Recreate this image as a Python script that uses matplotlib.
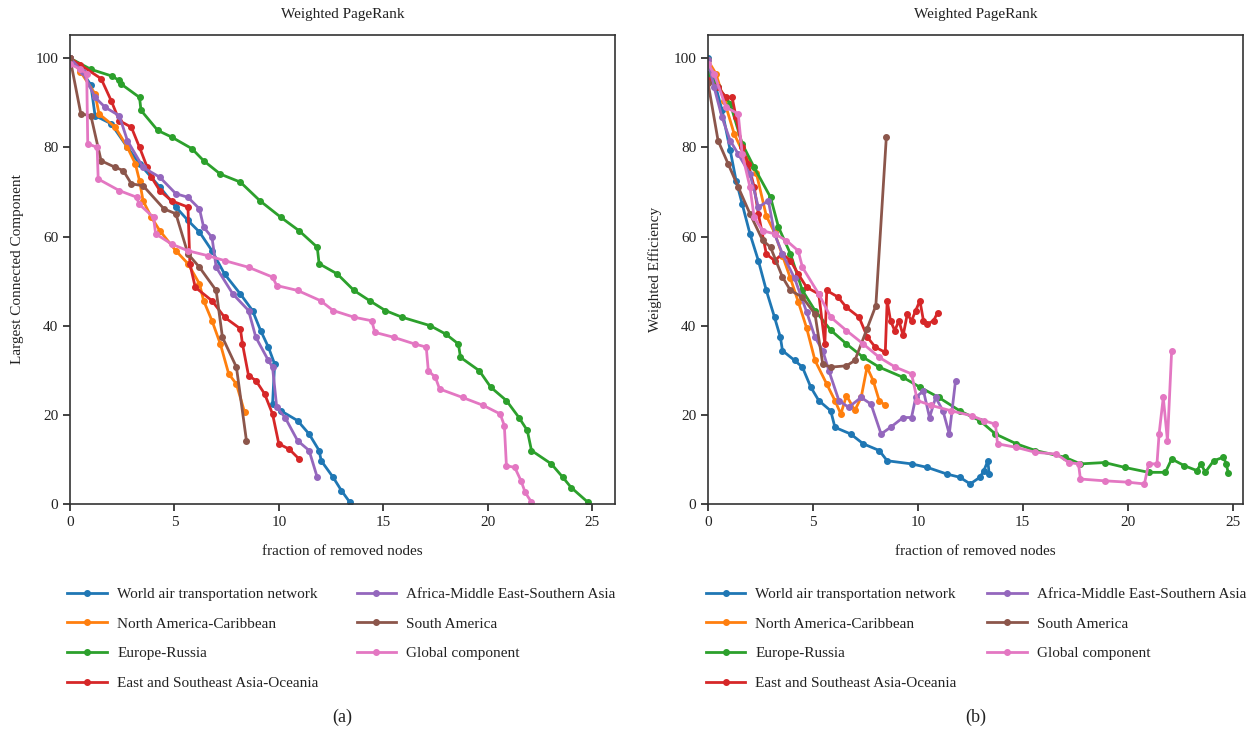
import numpy as np
import matplotlib
matplotlib.use("Agg")
import matplotlib.pyplot as plt

plt.rcParams['font.family'] = ['Liberation Serif', 'DejaVu Serif']

# ---------------------------------------------------------------
# series names and colours (same order in both panels)
# ---------------------------------------------------------------
names = ["World air transportation network", "North America-Caribbean", "Europe-Russia",
         "East and Southeast Asia-Oceania", "Africa-Middle East-Southern Asia",
         "South America", "Global component"]
colors = ["#1f77b4", "#ff7f0e", "#2ca02c", "#d62728", "#9467bd", "#8c564b", "#e377c2"]

# ---------------------------------------------------------------
# (a) Largest Connected Component vs fraction of removed nodes
# ---------------------------------------------------------------
lcc_world_x = [0, 0.5, 1.0, 1.2, 1.97, 2.75, 3.33, 4.3, 5.07, 5.65, 6.2, 6.8, 7.4, 8.16, 8.74, 9.13,
               9.5, 9.8, 9.7, 10.1, 10.9, 11.45, 11.93, 12.03, 12.6, 13.0, 13.4]
lcc_world_y = [100, 97.5, 94, 87.1, 85.3, 80, 76.3, 71.1, 66.6, 63.6, 61, 56.8, 51.6, 47.1, 43.4, 38.9,
               35.2, 31.4, 22.4, 20.9, 18.7, 15.7, 12.0, 9.7, 6.0, 3.0, 0.4]

lcc_north_am_x = [0, 0.5, 1.2, 1.39, 2.17, 2.75, 3.13, 3.33, 3.5, 3.9, 4.3, 5.07, 5.65, 6.2, 6.4, 6.8,
                  7.2, 7.6, 7.97, 8.36]
lcc_north_am_y = [100, 97, 92, 87.5, 84.5, 80, 76.3, 72.5, 68, 64.3, 61.3, 56.8, 53.9, 49.4, 45.6, 41.1,
                  35.9, 29.2, 26.9, 20.6]

lcc_europe_x = [0, 1.0, 2.0, 2.36, 2.45, 3.33, 3.4, 4.2, 4.87, 5.84, 6.4, 7.2, 8.16, 9.1, 10.1, 10.97,
                11.84, 11.93, 12.8, 13.6, 14.35, 15.1, 15.9, 17.25, 18.0, 18.6, 18.7, 19.6, 20.15, 20.9,
                21.5, 21.9, 22.1, 23.05, 23.6, 24.0, 24.8]
lcc_europe_y = [100, 97.5, 96, 95, 94.2, 91.2, 88.3, 83.8, 82.3, 79.7, 77, 74, 72.2, 68, 64.3, 61.3,
                57.6, 53.9, 51.6, 47.9, 45.6, 43.4, 41.9, 40.0, 38.1, 35.9, 32.9, 29.9, 26.2, 23.2,
                19.4, 16.5, 12.0, 9.0, 6.0, 3.7, 0.4]

lcc_east_asia_x = [0, 0.5, 1.49, 1.97, 2.36, 2.94, 3.33, 3.7, 3.9, 4.3, 4.87, 5.65, 5.74, 6.0, 6.8, 7.4,
                   8.16, 8.26, 8.55, 8.9, 9.32, 9.7, 10.0, 10.5, 10.97]
lcc_east_asia_y = [100, 98.5, 95.4, 90.5, 86, 84.5, 80, 75.5, 73.3, 70.3, 68, 66.6, 53.9, 48.6, 45.6, 41.9,
                   39.3, 35.9, 28.8, 27.7, 24.7, 20.2, 13.5, 12.3, 10.1]

lcc_africa_x = [0, 0.6, 1.2, 1.68, 2.36, 2.75, 3.5, 4.3, 5.07, 5.65, 6.2, 6.4, 6.8, 7.0, 7.8, 8.55, 8.9,
                9.5, 9.7, 9.9, 10.3, 10.9, 11.45, 11.84]
lcc_africa_y = [100, 97, 91.2, 89, 87.1, 81.5, 75.5, 73.3, 69.6, 68.8, 66.2, 62.1, 59.8, 53.1, 47.1, 43.4,
                37.4, 32.2, 30.7, 21.7, 19.4, 14.2, 12.0, 6.0]

lcc_south_am_x = [0, 0.52, 1.0, 1.49, 2.17, 2.55, 2.94, 3.5, 4.5, 5.07, 5.65, 6.2, 7.0, 7.3, 7.97, 8.45]
lcc_south_am_y = [100, 87.5, 87.1, 77, 75.5, 74.8, 71.8, 71.4, 66.2, 65.1, 56.1, 53.1, 47.9, 37.4, 30.7, 14.2]

lcc_global_x = [0, 0.5, 0.8, 0.85, 1.3, 1.35, 2.36, 3.2, 3.3, 4.0, 4.1, 4.87, 5.65, 6.6, 7.4, 8.55, 9.7,
                9.9, 10.9, 12.0, 12.6, 13.6, 14.45, 14.6, 15.5, 16.5, 17.06, 17.16, 17.5, 17.7, 18.8,
                19.8, 20.6, 20.8, 20.9, 21.3, 21.6, 21.8, 22.1]
lcc_global_y = [98.7, 97.5, 96.5, 80.8, 80, 72.9, 70.3, 68.8, 67.3, 64.3, 60.6, 58.3, 56.8, 55.7, 54.6,
                53.1, 50.9, 49, 47.9, 45.6, 43.4, 41.9, 41.1, 38.5, 37.4, 35.9, 35.2, 29.9, 28.4, 25.8,
                23.9, 22.1, 20.2, 17.6, 8.6, 8.2, 5.2, 2.6, 0.4]

# ---------------------------------------------------------------
# (b) Weighted Efficiency vs fraction of removed nodes
# ---------------------------------------------------------------
eff_world_x = [0, 0.29, 0.67, 1.06, 1.34, 1.63, 2.0, 2.4, 2.78, 3.17, 3.45, 3.55, 4.13, 4.5, 4.9, 5.28,
               5.85, 6.05, 6.8, 7.4, 8.16, 8.54, 9.7, 10.46, 11.4, 12.0, 12.5, 12.96, 13.15, 13.34, 13.4]
eff_world_y = [100, 95, 88.3, 79.3, 72.5, 67.3, 60.6, 54.6, 47.9, 41.9, 37.4, 34.4, 32.2, 30.7, 26.2, 23.2,
               20.9, 17.2, 15.7, 13.5, 12.0, 9.7, 9.0, 8.2, 6.7, 6.0, 4.5, 6.0, 7.5, 9.7, 6.7]

eff_north_am_x = [0, 0.38, 0.77, 1.25, 1.82, 2.3, 2.78, 3.17, 3.55, 3.93, 4.3, 4.7, 5.1, 5.66, 6.05, 6.33,
                  6.6, 7.0, 7.3, 7.58, 7.87, 8.16, 8.45]
eff_north_am_y = [99.5, 96.5, 90.5, 83, 77.3, 74.3, 64.6, 60.9, 55.7, 50.6, 45.4, 39.5, 32.2, 26.9, 23.2,
                  20.2, 24.3, 21.0, 23.9, 30.7, 27.7, 23.2, 22.1]

eff_europe_x = [0, 0.48, 1.06, 1.63, 2.2, 2.98, 3.36, 3.93, 4.5, 5.1, 5.85, 6.6, 7.4, 8.16, 9.3, 10.1,
                11.0, 12.0, 12.96, 13.7, 14.7, 15.6, 17.0, 17.75, 18.9, 19.87, 21.0, 21.8, 22.1, 22.7,
                23.3, 23.5, 23.7, 24.1, 24.57, 24.7, 24.8]
eff_europe_y = [96.5, 93.5, 89.8, 80.8, 75.5, 68.8, 62.1, 56.1, 47.9, 43.4, 39.0, 35.9, 32.9, 30.7, 28.4,
                26.2, 23.9, 20.9, 18.7, 15.7, 13.5, 12.0, 10.5, 9.0, 9.3, 8.2, 7.1, 7.1, 10.1, 8.6, 7.5,
                9.0, 7.1, 9.7, 10.5, 9.0, 6.9]

eff_east_asia_x = [0, 0.48, 0.86, 1.15, 1.34, 1.63, 1.92, 2.2, 2.4, 2.78, 3.17, 3.55, 3.93, 4.3, 4.7, 5.28,
                   5.57, 5.66, 6.2, 6.6, 7.2, 7.6, 7.97, 8.45, 8.54, 8.7, 8.9, 9.1, 9.3, 9.5, 9.7, 9.9,
                   10.1, 10.27, 10.46, 10.75, 10.94]
eff_east_asia_y = [95, 93.5, 91.2, 91.2, 86.7, 80, 76.3, 71.1, 65.1, 56.1, 54.6, 56.1, 54.6, 51.6, 48.6,
                   47.1, 35.9, 47.9, 46.4, 44.1, 41.9, 37.4, 35.2, 34.0, 45.6, 41.1, 38.9, 41.1, 37.8,
                   42.6, 41.1, 43.4, 45.6, 41.1, 40.4, 41.1, 42.9]

eff_africa_x = [0, 0.29, 0.67, 1.06, 1.44, 2.0, 2.4, 2.88, 3.17, 3.55, 4.13, 4.7, 5.1, 5.47, 5.76, 6.24,
                6.7, 7.3, 7.77, 8.25, 8.7, 9.3, 9.7, 9.9, 10.27, 10.56, 10.85, 11.2, 11.5, 11.8]
eff_africa_y = [99.5, 93.5, 86.7, 81.5, 78.5, 74, 66.6, 68, 60.6, 56.1, 50.6, 43.1, 37.4, 34.4, 29.9, 23.2,
                21.7, 23.9, 22.4, 15.7, 17.2, 19.4, 19.4, 23.9, 25.4, 19.4, 23.9, 20.9, 15.7, 27.7]

eff_south_am_x = [0, 0.48, 0.96, 1.44, 2.0, 2.6, 2.98, 3.55, 3.93, 4.5, 5.1, 5.47, 5.85, 6.6, 7.0, 7.58,
                  8.0, 8.5]
eff_south_am_y = [94.5, 81.5, 76.3, 71.1, 65.1, 59.2, 57.6, 50.9, 47.9, 46.4, 42.6, 31.4, 30.7, 31.0, 32.2,
                  39.3, 44.5, 82.3]

eff_global_x = [0, 0.29, 0.86, 1.44, 1.63, 2.0, 2.2, 2.6, 3.17, 3.74, 4.3, 4.5, 5.28, 5.85, 6.6, 7.4, 8.16,
                8.93, 9.7, 9.98, 10.65, 11.6, 12.57, 13.15, 13.7, 13.8, 14.7, 15.6, 16.6, 17.2, 17.66,
                17.75, 18.9, 20.0, 20.8, 21.0, 21.4, 21.5, 21.7, 21.9, 22.1]
eff_global_y = [98.8, 96.5, 89, 87.5, 78.5, 71.1, 64.3, 61.3, 60.6, 59.1, 56.8, 53.1, 47.1, 41.9, 38.9,
                35.9, 32.9, 30.7, 29.2, 23.2, 22.1, 20.9, 19.8, 18.7, 17.9, 13.5, 12.7, 11.6, 11.2, 9.3,
                9.0, 5.6, 5.2, 4.9, 4.5, 9.0, 9.0, 15.7, 23.9, 14.2, 34.4]

lcc_series = [(lcc_world_x, lcc_world_y), (lcc_north_am_x, lcc_north_am_y), (lcc_europe_x, lcc_europe_y),
              (lcc_east_asia_x, lcc_east_asia_y), (lcc_africa_x, lcc_africa_y),
              (lcc_south_am_x, lcc_south_am_y), (lcc_global_x, lcc_global_y)]
eff_series = [(eff_world_x, eff_world_y), (eff_north_am_x, eff_north_am_y), (eff_europe_x, eff_europe_y),
              (eff_east_asia_x, eff_east_asia_y), (eff_africa_x, eff_africa_y),
              (eff_south_am_x, eff_south_am_y), (eff_global_x, eff_global_y)]

fig = plt.figure(figsize=(12.58, 7.31), dpi=100)
ax1 = fig.add_axes([70 / 1258, 1 - 504 / 731, 545 / 1258, 469 / 731])
ax2 = fig.add_axes([708 / 1258, 1 - 504 / 731, 535 / 1258, 469 / 731])


def draw_panel(ax, series, ylabel, xmax, tag, colspace):
    for (x, y), name, c in zip(series, names, colors):
        ax.plot(x, y, color=c, lw=2.0, marker='o', ms=4, label=name)
    ax.set_xlim(0, xmax)
    ax.set_ylim(0, 105.2)
    ax.set_xticks([0, 5, 10, 15, 20, 25])
    ax.set_yticks([0, 20, 40, 60, 80, 100])
    ax.tick_params(direction='out', length=5, width=1.2, labelsize=11, colors='#222222')
    for s in ax.spines.values():
        s.set_linewidth(1.2)
        s.set_color('#333333')
    ax.set_title("Weighted PageRank", fontsize=11, pad=12, color='#222222')
    ax.set_xlabel("fraction of removed nodes", fontsize=11, labelpad=12, color='#222222')
    ax.set_ylabel(ylabel, fontsize=11, labelpad=8, color='#222222')
    ax.legend(loc='upper left', bbox_to_anchor=(-0.03, -0.148), ncol=2, frameon=False,
              fontsize=11, handlelength=2.6, columnspacing=colspace, labelspacing=1.05,
              handletextpad=0.65, labelcolor='#222222')
    x0, x1 = ax.get_position().x0, ax.get_position().x1
    fig.text((x0 + x1) / 2, 1 - 717 / 731, tag, ha='center', va='center', fontsize=13, color='#222222')


draw_panel(ax1, lcc_series, "Largest Connected Component", 26.1, "(a)", 2.5)
draw_panel(ax2, eff_series, "Weighted Efficiency", 25.5, "(b)", 2.0)

fig.savefig("out.png", dpi=100)
